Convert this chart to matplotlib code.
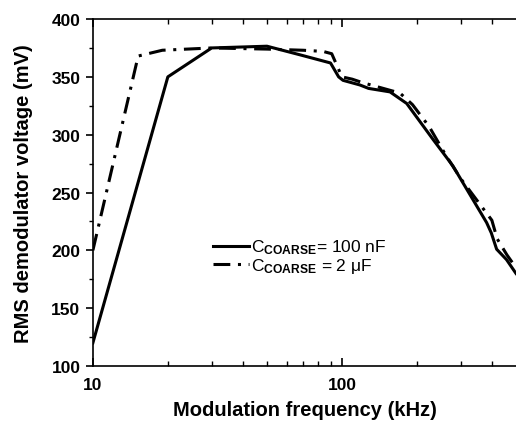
import numpy as np
import matplotlib
matplotlib.use('Agg')
import matplotlib.pyplot as plt
from matplotlib.ticker import FixedLocator, FixedFormatter, NullFormatter, MultipleLocator

plt.rcParams['font.family'] = ['Liberation Sans', 'DejaVu Sans']
plt.rcParams['mathtext.fontset'] = 'custom'
plt.rcParams['mathtext.bf'] = 'Liberation Sans:bold'
plt.rcParams['mathtext.rm'] = 'Liberation Sans'
plt.rcParams['mathtext.it'] = 'Liberation Sans'

# data
f_100n = [10, 20, 30, 50, 68, 90, 97, 101, 118, 128, 156, 182, 232, 279, 381, 398, 418, 458, 500]
v_100n = [120, 350, 375, 376.5, 369, 362, 350, 347, 343, 340, 337, 327, 296, 273, 224, 215, 201, 192, 180]

f_2u = [10, 15.2, 19, 30, 50, 70, 84, 91, 100, 110, 121, 171, 192, 224, 260, 300, 400, 420, 460, 500]
v_2u = [200, 368, 373, 375, 374, 373, 372, 370, 350, 348, 345, 336, 326, 307, 283, 262, 226, 210, 196, 185]

label_100n = r'C$_{\mathbf{COARSE}}$= 100 nF'
label_2u = r'C$_{\mathbf{COARSE}}$ = 2 $\mu$F'

fig = plt.figure(figsize=(5.16, 4.27), dpi=100)
ax = fig.add_axes([0.180, 0.1405, 0.820, 0.8126])

ax.plot(f_100n, v_100n, color='black', lw=2.2, label=label_100n)
ax.plot(f_2u, v_2u, color='black', lw=2.2, ls=(0, (5.5, 2.5, 1, 2.5)), label=label_2u)

ax.set_xscale('log')
ax.set_xlim(10, 500)
ax.set_ylim(100, 400)

ax.xaxis.set_major_locator(FixedLocator([10, 100]))
ax.xaxis.set_major_formatter(FixedFormatter(['10', '100']))
ax.xaxis.set_minor_locator(FixedLocator([20, 30, 40, 50, 60, 70, 80, 90, 200, 300, 400]))
ax.xaxis.set_minor_formatter(NullFormatter())
ax.yaxis.set_major_locator(MultipleLocator(50))
ax.yaxis.set_minor_locator(MultipleLocator(25))

ax.tick_params(axis='x', which='both', direction='in', top=True, bottom=True)
ax.tick_params(axis='x', which='major', length=6, width=1.2, pad=8)
ax.tick_params(axis='x', which='minor', length=3.5, width=1.0)
ax.tick_params(axis='y', which='major', direction='out', length=5, width=1.2, pad=4)
ax.tick_params(axis='y', which='minor', direction='out', length=3, width=1.0)
ax.tick_params(axis='both', labelsize=12.5)
for lab in ax.get_xticklabels() + ax.get_yticklabels():
    lab.set_fontweight('bold')

ax.spines['right'].set_visible(False)
for s in ['left', 'bottom', 'top']:
    ax.spines[s].set_linewidth(1.2)

ax.set_xlabel('Modulation frequency (kHz)', fontsize=14.5, fontweight='bold', labelpad=6)
ax.set_ylabel('RMS demodulator voltage (mV)', fontsize=14.5, fontweight='bold', labelpad=13)

leg = ax.legend(loc='upper left', bbox_to_anchor=(0.246, 0.415), frameon=False,
                fontsize=12.5, handlelength=2.1, handletextpad=0.1, labelspacing=0.0)

fig.savefig('out.png', dpi=100)
